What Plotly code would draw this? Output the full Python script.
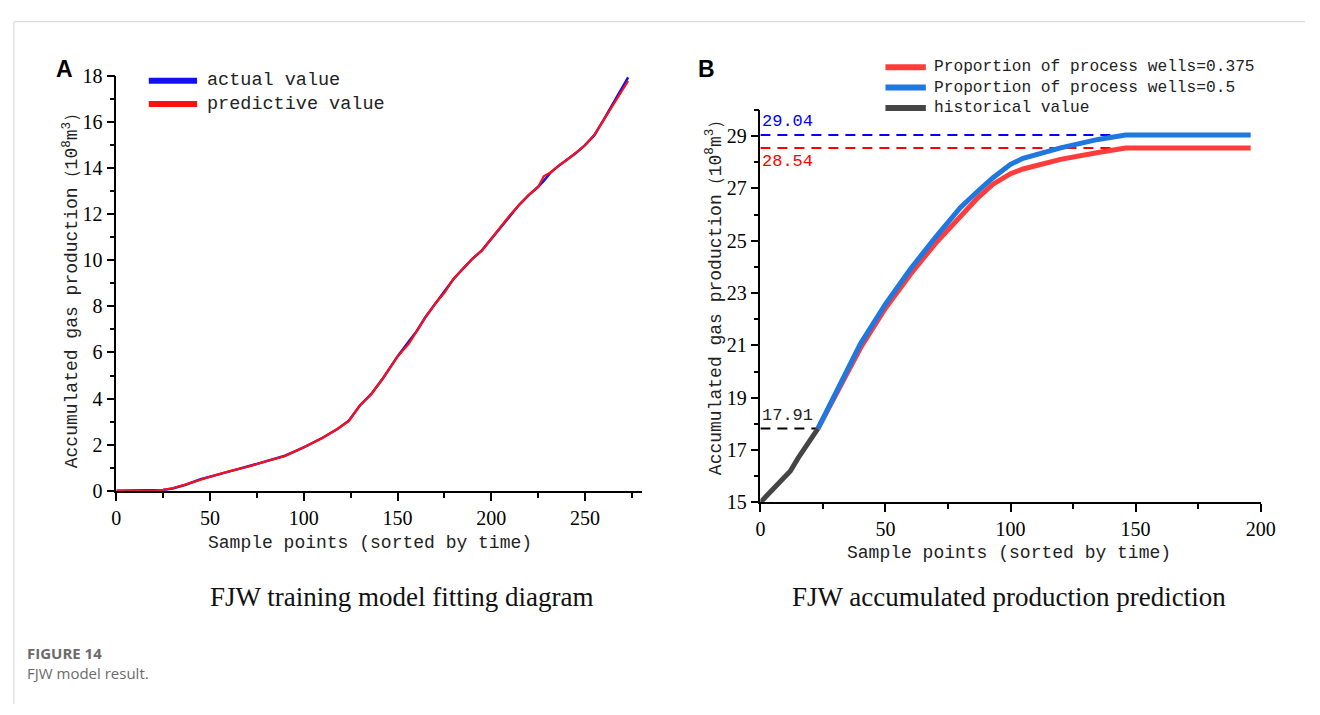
import plotly.graph_objects as go

W, H = 1320, 715


def px(x):
    return x / W


def py(y):
    return 1 - y / H


# ---------------- Panel A data ----------------
a_x = [0, 10, 20, 25, 30, 37, 45, 50, 60, 70, 80, 90, 100, 110, 118, 124, 130,
       136, 142, 150, 156, 160, 165, 170, 175, 180, 185, 190, 195, 200, 205,
       210, 215, 220, 225, 228, 232, 236, 240, 245, 250, 255, 260, 265, 270, 273]
a_actual = [0, 0, 0.01, 0.03, 0.10, 0.26, 0.50, 0.62, 0.83, 1.05, 1.27, 1.52,
            1.88, 2.30, 2.68, 3.04, 3.70, 4.20, 4.85, 5.83, 6.48, 6.90, 7.55,
            8.10, 8.60, 9.20, 9.64, 10.07, 10.43, 10.94, 11.45, 11.96, 12.42,
            12.83, 13.19, 13.45, 13.84, 14.10, 14.35, 14.64, 15.00, 15.43,
            16.10, 16.80, 17.50, 17.94]
a_pred = [0, 0, 0.01, 0.04, 0.11, 0.27, 0.49, 0.61, 0.84, 1.04, 1.28, 1.51,
          1.89, 2.29, 2.69, 3.02, 3.72, 4.19, 4.86, 5.82, 6.38, 6.91, 7.54,
          8.11, 8.59, 9.21, 9.63, 10.08, 10.42, 10.95, 11.44, 11.97, 12.41,
          12.84, 13.18, 13.65, 13.83, 14.11, 14.34, 14.65, 14.99, 15.44,
          16.09, 16.79, 17.45, 17.78]

# ---------------- Panel B data ----------------
b_hist_x = [0, 3, 8, 12, 15, 19, 23]
b_hist_y = [15.0, 15.3, 15.75, 16.2, 16.68, 17.25, 17.82]
b_x = [23, 30, 40, 50, 60, 70, 80, 87, 93, 100, 105, 120, 135, 146, 196]
b_p05 = [17.82, 19.15, 21.06, 22.58, 23.92, 25.13, 26.27, 26.90, 27.41, 27.92,
         28.15, 28.55, 28.87, 29.04, 29.04]
b_p0375 = [17.82, 19.10, 20.90, 22.42, 23.72, 24.90, 25.97, 26.65, 27.16,
           27.56, 27.74, 28.11, 28.37, 28.54, 28.54]
b_labels = ["29.04", "28.54", "17.91"]

legend_a = ["actual value", "predictive value"]
legend_b = ["Proportion of process wells=0.375", "Proportion of process wells=0.5",
            "historical value"]

MONO = "Liberation Mono"
SERIF = "Liberation Serif"

C_BLUE_A = "#1010f0"
C_RED_A = "#ff1010"
C_RED_B = "#ff3b3b"
C_BLUE_B = "#1f78e0"
C_HIST = "#454545"

fig = go.Figure()

# Panel A
fig.add_trace(go.Scatter(x=a_x, y=a_actual, mode="lines", xaxis="x", yaxis="y",
                         line=dict(color=C_BLUE_A, width=2.5), showlegend=False))
fig.add_trace(go.Scatter(x=a_x, y=a_pred, mode="lines", xaxis="x", yaxis="y",
                         line=dict(color=C_RED_A, width=2.2), showlegend=False))

# Panel B reference dashed lines
plateau_x = b_x[-2]
fig.add_trace(go.Scatter(x=[0, plateau_x], y=[b_p05[-1], b_p05[-1]], mode="lines",
                         xaxis="x2", yaxis="y2", showlegend=False,
                         line=dict(color="#0000ff", width=2, dash="10px,7px")))
fig.add_trace(go.Scatter(x=[0, plateau_x], y=[b_p0375[-1], b_p0375[-1]], mode="lines",
                         xaxis="x2", yaxis="y2", showlegend=False,
                         line=dict(color="#ff0000", width=2, dash="10px,7px")))
fig.add_trace(go.Scatter(x=[0, b_hist_x[-1]], y=[b_hist_y[-1], b_hist_y[-1]], mode="lines",
                         xaxis="x2", yaxis="y2", showlegend=False,
                         line=dict(color="#000000", width=2, dash="10px,7px")))

fig.add_trace(go.Scatter(x=b_hist_x, y=b_hist_y, mode="lines", xaxis="x2", yaxis="y2",
                         line=dict(color=C_HIST, width=5), showlegend=False))
fig.add_trace(go.Scatter(x=b_x, y=b_p0375, mode="lines", xaxis="x2", yaxis="y2",
                         line=dict(color=C_RED_B, width=5), showlegend=False))
fig.add_trace(go.Scatter(x=b_x, y=b_p05, mode="lines", xaxis="x2", yaxis="y2",
                         line=dict(color=C_BLUE_B, width=5), showlegend=False))

axis_common = dict(showline=True, linecolor="black", linewidth=1.5, ticks="outside",
                   ticklen=8, tickwidth=1.5, tickcolor="black", showgrid=False,
                   zeroline=False, tickfont=dict(family=SERIF, size=20, color="black"))

fig.update_layout(
    width=W, height=H, margin=dict(l=0, r=0, t=0, b=0),
    paper_bgcolor="white", plot_bgcolor="white", showlegend=False,
    xaxis=dict(domain=[px(113), px(647)], range=[0, 280.5], anchor="y",
               tickvals=[0, 50, 100, 150, 200, 250],
               minor=dict(ticks="outside", ticklen=5, tickwidth=1.5, tickcolor="black",
                          tickvals=[25, 75, 125, 175, 225, 275]),
               **axis_common),
    yaxis=dict(domain=[py(495), py(67)], range=[0, 18], anchor="x",
               tickvals=[0, 2, 4, 6, 8, 10, 12, 14, 16, 18],
               minor=dict(ticks="outside", ticklen=5, tickwidth=1.5, tickcolor="black",
                          tickvals=[1, 3, 5, 7, 9, 11, 13, 15, 17]),
               **axis_common),
    xaxis2=dict(domain=[px(767), px(1275)], range=[0, 200], anchor="y2",
                tickvals=[0, 50, 100, 150, 200],
                minor=dict(ticks="outside", ticklen=5, tickwidth=1.5, tickcolor="black",
                           tickvals=[25, 75, 125, 175]),
                **axis_common),
    yaxis2=dict(domain=[py(507), py(102)], range=[15, 30], anchor="x2",
                tickvals=[15, 17, 19, 21, 23, 25, 27, 29],
                minor=dict(ticks="outside", ticklen=5, tickwidth=1.5, tickcolor="black",
                           tickvals=[16, 18, 20, 22, 24, 26, 28, 30]),
                **axis_common),
)

ann = []
shapes = []


def note(text, x, y, size, family=MONO, color="#222", xanchor="center",
         yanchor="middle", **kw):
    ann.append(dict(text=text, x=px(x), y=py(y), xref="paper", yref="paper",
                    xanchor=xanchor, yanchor=yanchor, showarrow=False,
                    font=dict(family=family, size=size, color=color), **kw))


# axis titles
ytitle = "Accumulated gas production（10<sup>8</sup>m<sup>3</sup>）"
xtitle = "Sample points (sorted by time)"
note(ytitle, 67, 284, 18, textangle=-90)
note(xtitle, 371, 549, 18)
note(ytitle, 720, 291, 18, textangle=-90)
note(xtitle, 1019, 559, 18)

# panel letters
note("<b>A</b>", 60, 60, 23, family="Liberation Sans", color="black")
note("<b>B</b>", 712, 60, 23, family="Liberation Sans", color="black")

# legend A (manual)
for i, (name, col) in enumerate(zip(legend_a, [C_BLUE_A, C_RED_A])):
    yy = 72 + 24 * i
    shapes.append(dict(type="line", xref="paper", yref="paper", x0=px(146), x1=px(195),
                       y0=py(yy), y1=py(yy), line=dict(color=col, width=6)))
    note(name, 203, yy, 18.5, xanchor="left")

# legend B (manual)
for i, (name, col) in enumerate(zip(legend_b, [C_RED_B, C_BLUE_B, C_HIST])):
    yy = 58 + 21 * i
    shapes.append(dict(type="line", xref="paper", yref="paper", x0=px(894), x1=px(935),
                       y0=py(yy), y1=py(yy), line=dict(color=col, width=6)))
    note(name, 941, yy, 16.2, xanchor="left")

# value labels in panel B
ann.append(dict(text=b_labels[0], x=0, y=b_p05[-1], xref="x2", yref="y2",
                xanchor="left", yanchor="bottom", yshift=2, showarrow=False,
                font=dict(family=MONO, size=17, color="#0000ff")))
ann.append(dict(text=b_labels[1], x=0, y=b_p0375[-1], xref="x2", yref="y2",
                xanchor="left", yanchor="top", yshift=-2, showarrow=False,
                font=dict(family=MONO, size=17, color="#ff0000")))
ann.append(dict(text=b_labels[2], x=0, y=b_hist_y[-1], xref="x2", yref="y2",
                xanchor="left", yanchor="bottom", yshift=2, showarrow=False,
                font=dict(family=MONO, size=17, color="#222")))

# captions
note("FJW training model fitting diagram", 403, 605, 27, family=SERIF, color="#111")
note("FJW accumulated production prediction", 1019, 605, 27, family=SERIF, color="#111")
note("<b>FIGURE 14</b>", 20, 662, 15, family="Open Sans", color="#6b6b6b", xanchor="left")
note("FJW model result.", 20, 683, 15, family="Open Sans", color="#6b6b6b", xanchor="left")

# page frame lines
shapes.append(dict(type="line", xref="paper", yref="paper", x0=px(9), x1=1,
                   y0=py(11), y1=py(11), line=dict(color="#d6d6d6", width=1)))
shapes.append(dict(type="line", xref="paper", yref="paper", x0=px(9), x1=px(9),
                   y0=py(11), y1=0, line=dict(color="#d6d6d6", width=1)))

fig.update_layout(annotations=ann, shapes=shapes)

fig.write_html("out.html", post_script="document.body.style.margin='0';")
